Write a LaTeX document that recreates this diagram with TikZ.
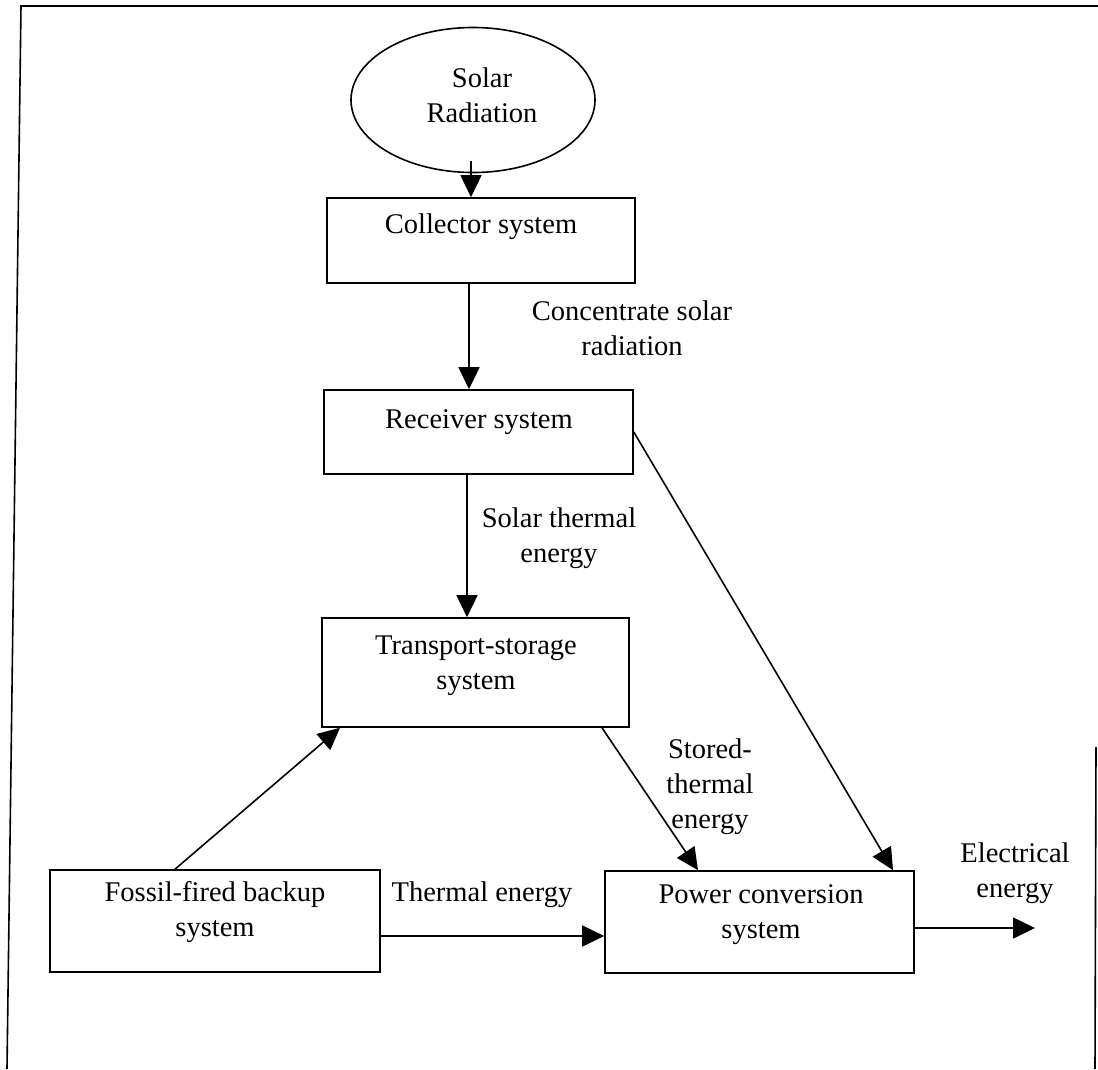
\documentclass[tikz,border=0pt]{standalone}
\usepackage{fontspec}
\setmainfont{Liberation Serif}
\usetikzlibrary{arrows.meta,shapes.geometric,calc}
\begin{document}
\begin{tikzpicture}[x=1pt,y=-1pt,
  box/.style={draw, line width=1.6pt, rectangle, inner sep=0pt},
  txt/.style={inner sep=0pt, align=center, font=\fontsize{28.5}{35}\selectfont},
  conn/.style={line width=1.6pt, -{Triangle[length=22pt,width=21pt]}},
  frameline/.style={line width=1.6pt}]
\useasboundingbox (0,0) rectangle (1098,1069);
% frame
\draw[frameline] (7,1069) -- (21,6) -- (1098,6);
\draw[frameline] (1096,747) -- (1095,1069);
% nodes
\node[draw, line width=1.6pt, ellipse, inner sep=0pt, minimum width=244pt, minimum height=145pt] (sun) at (473,100) {};
\node[txt] (suntxt) at (482,95) {Solar\\Radiation};
\node[box, minimum width=308pt, minimum height=85pt] (col) at (481,240.5) {};
\node[txt] (coltxt) at (481,227) {Collector system};
\node[box, minimum width=309pt, minimum height=84pt] (rec) at (478.5,432) {};
\node[txt] (rectxt) at (479,422) {Receiver system};
\node[box, minimum width=307pt, minimum height=109pt] (tra) at (475.5,672.5) {};
\node[txt] (tratxt) at (476,666) {Transport-storage\\system};
\node[box, minimum width=330pt, minimum height=102pt] (fos) at (215,921) {};
\node[txt] (fostxt) at (215,912) {Fossil-fired backup\\system};
\node[box, minimum width=309pt, minimum height=102pt] (pow) at (759.5,922) {};
\node[txt] (powtxt) at (761,915) {Power conversion\\system};
% labels
\node[txt] (l1) at (632,328) {Concentrate solar\\radiation};
\node[txt] (l2) at (559,538) {Solar thermal\\energy};
\node[txt] (l3) at (710,787) {Stored-\\thermal\\energy};
\node[txt] (l4) at (482,895) {Thermal energy};
\node[txt] (l5) at (1015,873) {Electrical\\energy};
% helper coordinates
\coordinate (a1) at (471,0);
\coordinate (a2) at (469,0);
\coordinate (a3) at (467,0);
\coordinate (b1) at (175,0);
\coordinate (b2) at (340,0);
\coordinate (s1) at (602,0);
\coordinate (s2) at (698,0);
\coordinate (r2) at (893,0);
\coordinate (c) at (0,936);
\coordinate (d) at (0,928);
\coordinate (out) at (1035,928);
% connectors
\draw[conn, shorten <=-12pt] (sun.south -| a1) -- (col.north -| a1);
\draw[conn] (col.south -| a2) -- (rec.north -| a2);
\draw[conn] (rec.south -| a3) -- (tra.north -| a3);
\draw[conn] (fos.north -| b1) -- (tra.south -| b2);
\draw[conn] (tra.south -| s1) -- (pow.north -| s2);
\draw[conn] (rec.east) -- (pow.north -| r2);
\draw[conn] (fos.east |- c) -- (pow.west |- c);
\draw[conn] (pow.east |- d) -- (out);
\end{tikzpicture}
\end{document}
